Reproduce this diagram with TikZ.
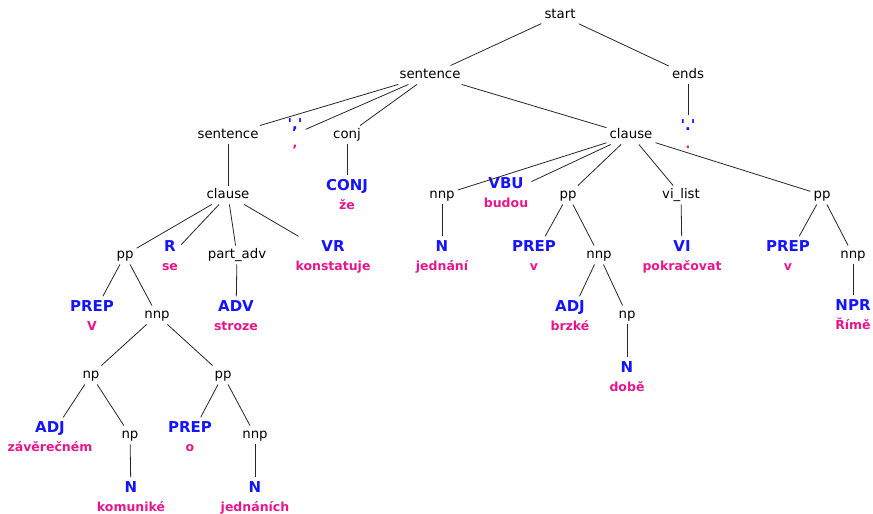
\documentclass[tikz,border=0pt]{standalone}
\usepackage{fontspec}
\setmainfont{DejaVu Sans}
\usepackage{tikz}
\definecolor{posblue}{RGB}{20,20,255}
\definecolor{wordpink}{RGB}{232,22,139}
% part of speech over the word
\newcommand{\leaftext}[2]{{\color{posblue}\fontsize{15}{18.5}\selectfont\rule{0pt}{12pt}#1}\\\rule[-3.5pt]{0pt}{3.5pt}#2}

\begin{document}
\begin{tikzpicture}
   [x=1pt,y=-1pt,
    cat/.style={font=\fontsize{13.3}{16}\selectfont, text height=9.5pt, text depth=3pt, inner sep=3pt},
    leaf/.style={align=center, inner sep=3pt, text=wordpink, font=\bfseries\fontsize{12.5}{18.5}\selectfont},
    edge/.style={black!85, line width=0.8pt}]

\useasboundingbox (0,0) rectangle (873,514);

% top levels
\node [cat] (start) at (560,15) {start};
\node [cat] (sent) at (430,75) {sentence};
\node [cat] (ends) at (688,75) {ends};
\node [cat] (sentL) at (228,135) {sentence};
\node [leaf] (comma) at (295,134) {\leaftext{\textquotesingle,\textquotesingle}{,}};
\node [cat] (conj) at (347,135) {conj};
\node [cat] (clR) at (631,135) {clause};
\node [leaf] (period) at (688,135) {\leaftext{\textquotesingle.\textquotesingle}{.}};

% left clause
\node [cat] (clL) at (228,195) {clause};
\node [leaf] (CONJ) at (347,195.5) {\leaftext{CONJ}{že}};
\node [cat] (ppA) at (125,255) {pp};
\node [leaf] (R) at (170,256.5) {\leaftext{R}{se}};
\node [cat] (padv) at (237,255) {part\_adv};
\node [leaf] (VR) at (333,256.5) {\leaftext{VR}{konstatuje}};
\node [leaf] (prepA) at (92,316.5) {\leaftext{PREP}{V}};
\node [cat] (nnpA) at (157,315) {nnp};
\node [leaf] (ADV) at (236,316.5) {\leaftext{ADV}{stroze}};
\node [cat] (npA) at (91,375) {np};
\node [cat] (ppB) at (223,375) {pp};
\node [leaf] (ADJa) at (50,437.5) {\leaftext{ADJ}{závěrečném}};
\node [cat] (npB) at (130,435) {np};
\node [leaf] (prepB) at (190,437.5) {\leaftext{PREP}{o}};
\node [cat] (nnpB) at (255,435) {nnp};
\node [leaf] (Na) at (131,497.5) {\leaftext{N}{komuniké}};
\node [leaf] (Nb) at (255,497.5) {\leaftext{N}{jednáních}};

% right clause
\node [cat] (nnpC) at (442,195) {nnp};
\node [leaf] (VBU) at (506,193.5) {\leaftext{VBU}{budou}};
\node [cat] (ppC) at (568,195) {pp};
\node [cat] (vil) at (681,195) {vi\_list};
\node [cat] (ppD) at (822,195) {pp};
\node [leaf] (Nc) at (442,256.5) {\leaftext{N}{jednání}};
\node [leaf] (prepC) at (534,256.5) {\leaftext{PREP}{v}};
\node [cat] (nnpD) at (599,255) {nnp};
\node [leaf] (VI) at (682,256.5) {\leaftext{VI}{pokračovat}};
\node [leaf] (prepD) at (788,256.5) {\leaftext{PREP}{v}};
\node [cat] (nnpE) at (853,255) {nnp};
\node [leaf] (ADJb) at (570,316.5) {\leaftext{ADJ}{brzké}};
\node [cat] (npC) at (627,315) {np};
\node [leaf] (NPR) at (853,315.5) {\leaftext{NPR}{Římě}};
\node [leaf] (Nd) at (627,377.5) {\leaftext{N}{době}};

\foreach \a/\b in {start/sent, start/ends, sent/sentL, sent/comma, sent/conj, sent/clR,
    ends/period, sentL/clL, conj/CONJ, clL/ppA, clL/R, clL/padv, clL/VR,
    ppA/prepA, ppA/nnpA, padv/ADV, nnpA/npA, nnpA/ppB, npA/ADJa, npA/npB, npB/Na,
    ppB/prepB, ppB/nnpB, nnpB/Nb, clR/nnpC, clR/VBU, clR/ppC, clR/vil, clR/ppD,
    nnpC/Nc, ppC/prepC, ppC/nnpD, nnpD/ADJb, nnpD/npC, npC/Nd, vil/VI,
    ppD/prepD, ppD/nnpE, nnpE/NPR}
  \draw [edge] (\a) -- (\b);
\end{tikzpicture}
\end{document}
